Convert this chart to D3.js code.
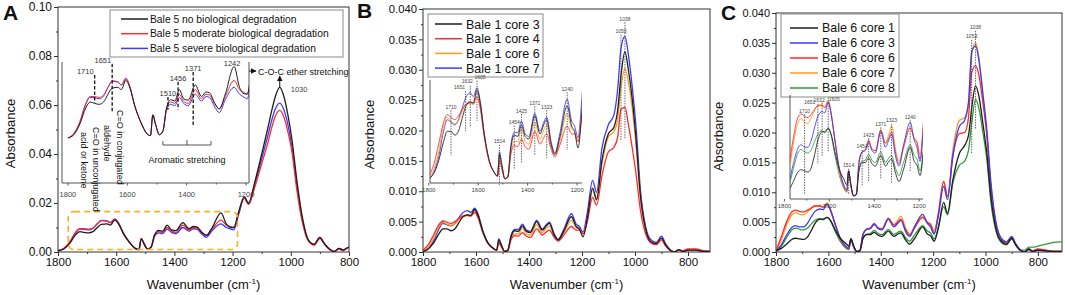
<!DOCTYPE html>
<html>
<head>
<meta charset="utf-8">
<script src="https://cdn.jsdelivr.net/npm/d3@7"></script>
<style>
  body { margin: 0; background: #fff; }
  svg { display: block; font-family: "Liberation Sans", Arial, sans-serif; }
</style>
</head>
<body>
<svg id="fig" width="1065" height="295"></svg>
<script>
// absorbance values are in units of 0.001, one per wavenumber below
const wavenumbers = [1800,1780,1760,1740,1725,1710,1695,1680,1665,1651,
  1632,1620,1605,1592,1575,1555,1535,1522,1514,1505,
  1492,1480,1468,1454,1440,1425,1410,1395,1371,1350,
  1335,1323,1305,1290,1270,1240,1222,1210,1196,1180,
  1160,1145,1125,1100,1080,1065,1053,1038,1025,1010,
  995,980,960,940,920,900,885,865,850,835,
  820,800,770,740,710];

// panel A
const aNone = [0.5,1.2,3.5,7.0,8.3,8.0,7.8,8.3,10.0,11.3,
  11.5,11.0,13.0,11.5,7.5,4.0,1.5,1.0,5.5,3.5,
  1.2,2.0,7.0,8.8,8.5,11.0,9.0,8.7,12.0,9.5,
  10.5,10.3,8.0,6.8,10.0,16.0,11.5,10.2,10.0,16.0,
  22.5,20.0,28.0,40.0,50.0,58.0,63.5,67.2,64.0,56.0,
  45.0,30.0,14.0,5.0,3.2,6.0,3.5,1.0,0.2,1.5,
  0.8,2.0,0.5,0.3,0.3];
const aModerate = [0.5,1.5,4.0,8.0,9.5,9.5,9.3,9.8,11.5,12.8,
  12.6,12.0,13.3,11.8,7.5,4.0,1.5,1.0,5.5,3.5,
  1.2,2.0,6.8,8.3,8.0,10.0,8.5,8.0,11.0,9.0,
  10.0,9.8,7.8,6.8,9.5,13.0,11.0,10.5,10.0,15.5,
  22.0,19.5,26.0,36.0,44.0,51.0,55.5,57.8,55.5,49.0,
  40.0,26.0,12.0,4.5,2.8,5.5,3.2,0.8,0.1,1.2,
  0.6,1.8,0.5,0.3,0.3];
const aSevere = [0.5,1.3,3.8,7.8,9.3,9.2,9.0,9.6,11.5,12.9,
  12.7,12.0,13.5,11.8,7.5,4.0,1.5,1.0,5.5,3.5,
  1.2,2.0,6.5,7.8,7.5,9.3,8.0,7.5,10.0,8.5,
  9.5,9.3,7.2,6.0,8.8,11.5,10.0,9.5,9.0,15.0,
  22.0,19.5,27.0,38.0,47.0,54.0,58.5,60.8,58.5,52.0,
  42.0,28.0,13.0,5.0,3.0,6.0,3.5,1.0,0.2,1.5,
  0.8,2.0,0.5,0.3,0.3];

// panel B
const bCore3 = [0.1,0.5,1.5,3.0,3.8,3.8,3.5,3.8,4.8,5.7,
  6.1,6.0,7.0,6.0,3.5,1.5,0.6,0.3,2.0,1.2,
  0.1,0.3,2.5,3.5,3.4,4.3,3.4,3.2,5.0,3.6,
  4.3,4.7,2.8,2.0,3.3,5.8,4.2,3.8,2.5,5.5,
  10.5,8.6,15.0,19.5,20.5,23.5,29.0,33.0,30.0,25.0,
  18.0,9.5,3.8,1.7,1.4,2.3,1.2,0.2,0.0,0.4,
  0.1,0.3,0.3,0.1,0.1];
const bCore4 = [0.3,1.2,2.8,4.5,5.1,4.9,4.7,5.0,5.5,5.9,
  6.0,5.9,6.5,5.6,3.3,1.4,0.6,0.3,1.5,0.9,
  0.1,0.2,2.0,2.7,2.6,3.2,2.6,2.4,3.8,2.8,
  3.3,3.6,2.4,1.8,2.7,4.2,3.6,3.6,3.0,5.0,
  9.0,7.7,12.5,16.5,17.2,19.0,23.5,23.8,21.0,17.0,
  12.5,7.0,3.0,1.5,1.2,2.0,1.0,0.2,0.0,0.3,
  0.2,0.5,0.5,0.2,0.1];
const bCore6 = [0.2,0.8,2.2,4.2,4.9,4.6,4.4,4.6,5.3,5.9,
  6.1,6.0,6.8,5.8,3.4,1.4,0.6,0.3,1.8,1.0,
  0.1,0.2,2.2,3.0,3.0,4.0,3.0,2.8,4.5,3.2,
  3.9,4.3,2.6,1.9,3.0,5.2,4.0,3.8,3.0,5.3,
  10.2,8.8,14.5,19.0,19.8,22.0,27.0,30.2,28.0,23.5,
  17.0,9.0,3.5,1.6,1.3,2.2,1.1,0.2,0.0,0.3,
  0.2,0.4,0.4,0.1,0.1];
const bCore7 = [0.1,0.6,1.8,3.8,4.7,4.5,4.3,4.7,5.6,6.4,
  6.8,6.5,7.2,6.2,3.6,1.5,0.6,0.3,2.2,1.3,
  0.1,0.3,2.7,3.7,3.7,4.6,3.6,3.4,5.2,3.8,
  4.5,4.9,3.0,2.1,3.6,6.3,4.6,4.2,3.3,6.5,
  11.8,9.8,17.0,21.0,22.5,27.0,33.5,35.5,32.5,27.0,
  20.0,10.5,4.2,2.0,1.6,2.6,1.4,0.3,0.0,0.4,
  0.1,0.3,0.3,0.1,0.1];

// panel C
const cCore1 = [0.2,0.6,1.3,2.1,2.3,2.2,2.1,2.5,3.6,4.8,
  5.5,5.5,5.8,5.3,3.8,2.3,1.5,1.0,2.2,1.2,
  0.1,0.2,2.2,2.9,2.9,3.3,2.8,2.6,3.5,2.6,
  3.0,3.2,2.0,1.3,2.3,4.2,3.0,2.7,1.8,4.0,
  8.3,6.5,12.0,16.5,17.8,19.5,24.0,27.8,26.0,21.5,
  16.5,9.5,3.8,1.8,1.3,2.3,1.2,0.2,0.0,0.5,
  0.1,0.3,0.2,0.1,0.1];
const cCore3 = [0.2,1.2,2.8,4.1,4.4,4.2,4.2,4.8,5.9,6.8,
  7.2,7.1,8.0,7.0,4.8,2.4,1.0,0.6,2.2,1.1,
  0.1,0.2,2.8,3.8,3.9,4.6,3.9,3.7,5.5,4.2,
  4.8,5.3,3.4,2.6,4.3,6.3,4.8,4.2,3.0,6.0,
  11.0,8.8,16.0,21.0,22.0,25.0,33.5,34.5,32.0,26.5,
  20.5,12.0,5.0,2.3,1.7,2.6,1.4,0.3,0.0,0.5,
  0.1,0.3,0.2,0.1,0.1];
const cCore6 = [0.3,2.5,5.0,6.7,7.0,6.8,6.7,7.0,7.4,7.7,
  7.7,7.5,8.0,7.0,4.7,2.2,0.9,0.5,2.2,1.0,
  0.1,0.2,3.0,3.8,4.0,4.8,4.0,3.9,5.6,4.5,
  5.0,5.5,3.7,2.8,4.1,5.8,4.9,4.6,3.2,6.5,
  11.8,9.3,16.0,19.8,20.0,22.5,30.0,31.2,29.5,25.0,
  19.5,11.0,4.5,2.0,1.5,2.4,1.3,0.2,0.0,0.4,
  0.2,0.5,0.3,0.1,0.1];
const cCore7 = [0.3,2.0,4.5,6.2,6.6,6.3,6.2,6.7,7.3,7.7,
  7.8,7.6,8.2,7.2,4.8,2.2,0.9,0.5,2.2,1.0,
  0.1,0.2,3.0,3.8,4.0,4.7,4.1,3.9,5.7,4.6,
  5.3,6.0,4.0,3.0,4.4,5.9,5.0,4.7,3.6,6.5,
  11.8,9.3,17.0,22.0,22.5,25.0,33.0,35.0,32.5,26.0,
  19.5,11.0,4.5,2.0,1.5,2.5,1.3,0.2,0.0,0.4,
  0.2,0.4,0.3,0.1,0.1];
const cCore8 = [0.2,0.9,2.4,3.7,4.0,3.8,3.7,4.0,4.7,5.3,
  5.6,5.4,5.8,5.2,3.5,1.8,0.7,0.4,2.2,1.1,
  0.1,0.2,2.4,3.0,3.1,3.6,3.1,2.9,3.8,2.9,
  3.3,3.5,2.4,1.8,2.9,4.4,3.5,3.2,2.2,4.2,
  7.6,6.2,11.5,14.5,15.2,17.0,21.5,25.5,24.0,20.0,
  15.5,8.5,3.5,1.6,1.2,2.2,1.2,0.3,0.3,0.8,
  0.8,1.0,1.3,1.6,1.7];

const xTicks = [1800, 1600, 1400, 1200, 1000, 800];
const xMinorTicks = [1700, 1500, 1300, 1100, 900];
const insetTicks = [1800, 1600, 1400, 1200];
const insetMinorTicks = [1700, 1500, 1300];
const peakMarks = [1710, 1651, 1632, 1605, 1514, 1454, 1425, 1371, 1323, 1240];
const mainPeakMarks = [1053, 1038];

// labels in panel A inset (drawn where the original puts them)
const insetANotes = [
  { label: "1710", at: 1710, top: 14.2, bottom: 8.1, anchor: "end" },
  { label: "1651", at: 1651, top: 16.6, bottom: 6.1, anchor: "end" },
  { label: "1510", at: 1463, top: 9.4, bottom: 6.6, anchor: "middle" },
  { label: "1456", at: 1429, top: 12.7, bottom: 6.6, anchor: "middle" },
  { label: "1371", at: 1378, top: 14.8, bottom: 2.9, anchor: "middle" },
  { label: "1242", at: 1247, top: 16.0, bottom: null, anchor: "middle" }
];

const svg = d3.select("#fig");
const defs = svg.append("defs");
defs.append("marker").attr("id", "arrow")
  .attr("viewBox", "0 0 10 10").attr("refX", 9).attr("refY", 5)
  .attr("markerWidth", 6).attr("markerHeight", 6).attr("orient", "auto")
  .append("path").attr("d", "M0,0L10,5L0,10z").attr("fill", "#111");

const pairs = vals => wavenumbers.map((w, i) => [w, vals[i]]);

function drawPanel(p) {
  const g = svg.append("g");
  const x = d3.scaleLinear().domain(p.xDomain).range([p.left, p.right]);
  const y = d3.scaleLinear().domain(p.yDomain).range([p.bottom, p.top]);
  const clipId = "clip-" + p.letter;
  defs.append("clipPath").attr("id", clipId).append("rect")
    .attr("x", p.left).attr("y", p.top).attr("width", p.right - p.left).attr("height", p.bottom - p.top);

  // axes
  const xa = g.append("g").attr("transform", `translate(0,${p.bottom})`)
    .call(d3.axisBottom(x).tickValues(xTicks).tickSize(4).tickSizeOuter(0).tickPadding(2).tickFormat(d3.format("d")));
  g.append("g").attr("transform", `translate(0,${p.bottom})`)
    .call(d3.axisBottom(x).tickValues(xMinorTicks).tickSize(2).tickSizeOuter(0).tickFormat(""));
  const yMajor = d3.range(p.yDomain[0], p.yDomain[1] + 1e-6, p.yStep);
  const yMinor = d3.range(p.yStep / 2, p.yDomain[1], p.yStep);
  const ya = g.append("g").attr("transform", `translate(${p.left},0)`)
    .call(d3.axisLeft(y).tickValues(yMajor).tickSize(4).tickSizeOuter(0).tickPadding(2)
      .tickFormat(d => (d / 1000).toFixed(p.yDigits)));
  g.append("g").attr("transform", `translate(${p.left},0)`)
    .call(d3.axisLeft(y).tickValues(yMinor).tickSize(2).tickSizeOuter(0).tickFormat(""));
  g.selectAll(".domain").remove();
  g.selectAll(".tick line").attr("stroke", "#333");
  xa.selectAll("text").attr("font-size", 11.5).attr("fill", "#111").attr("font-family", "Liberation Sans");
  ya.selectAll("text").attr("font-size", p.yFont).attr("fill", "#111").attr("font-family", "Liberation Sans");

  g.append("rect").attr("x", p.left).attr("y", p.top)
    .attr("width", p.right - p.left).attr("height", p.bottom - p.top)
    .attr("fill", "none").attr("stroke", "#333").attr("stroke-width", 1);

  // axis titles and panel letter
  const xt = g.append("text").attr("x", (p.left + p.right) / 2).attr("y", 289)
    .attr("text-anchor", "middle").attr("font-size", 13).attr("fill", "#111");
  xt.append("tspan").text("Wavenumber (cm");
  xt.append("tspan").attr("font-size", 8).attr("dy", -5).text("-1");
  xt.append("tspan").attr("dy", 5).text(")");
  g.append("text").attr("transform", `translate(${p.yLabelX},${(p.top + p.bottom) / 2 + 4}) rotate(-90)`)
    .attr("text-anchor", "middle").attr("font-size", 13).attr("fill", "#111").text("Absorbance");
  g.append("text").attr("x", p.letterX).attr("y", p.letterY)
    .attr("font-size", 21).attr("font-weight", "bold").attr("fill", "#111").text(p.letter);

  // spectra
  const line = d3.line().x(d => x(d[0])).y(d => y(d[1])).curve(d3.curveMonotoneX);
  g.append("g").attr("clip-path", `url(#${clipId})`)
    .selectAll("path").data(p.series.slice().reverse()).join("path")
    .attr("d", s => line(pairs(s.values)))
    .attr("fill", "none").attr("stroke", s => s.color).attr("stroke-width", 1.3);

  // legend
  const L = p.legend;
  const lg = g.append("g");
  lg.append("rect").attr("x", L.x0).attr("y", L.y0).attr("width", L.x1 - L.x0).attr("height", L.y1 - L.y0)
    .attr("fill", "#fff").attr("stroke", "#8a8a8a").attr("stroke-width", 1);
  p.series.forEach((s, i) => {
    const ry = L.rowY0 + i * L.rowStep;
    lg.append("line").attr("x1", L.lineX0).attr("x2", L.lineX1).attr("y1", ry).attr("y2", ry)
      .attr("stroke", s.color).attr("stroke-width", 1.5);
    lg.append("text").attr("x", L.textX).attr("y", ry + L.font * 0.36)
      .attr("font-size", L.font).attr("fill", "#111").text(s.name);
  });
  return { g, x, y };
}

function drawInset(g, series, ins) {
  const x = d3.scaleLinear().domain(ins.xDomain).range([ins.left, ins.right]);
  const y = d3.scaleLinear().domain(ins.yDomain).range([ins.bottom, ins.top]);
  const clipId = "clip-inset-" + ins.id;
  defs.append("clipPath").attr("id", clipId).append("rect")
    .attr("x", ins.left).attr("y", ins.top).attr("width", ins.right - ins.left).attr("height", ins.bottom - ins.top);
  const ig = g.append("g");
  const axisPath = ins.boxRight
    ? `M${ins.left},${ins.top}V${ins.bottom}H${ins.right}V${ins.top}`
    : `M${ins.left},${ins.top}V${ins.bottom}H${ins.right}`;
  ig.append("path").attr("d", axisPath).attr("fill", "none").attr("stroke", "#555").attr("stroke-width", 1);
  insetTicks.filter(t => t <= ins.xDomain[0] + 25 && t >= ins.xDomain[1] - 15).forEach(t => {
    ig.append("line").attr("x1", x(t)).attr("x2", x(t)).attr("y1", ins.bottom).attr("y2", ins.bottom + 2.5)
      .attr("stroke", "#555");
    ig.append("text").attr("x", x(t)).attr("y", ins.bottom + ins.labelDy).attr("text-anchor", "middle")
      .attr("font-size", ins.labelFont).attr("fill", "#444").text(t);
  });
  insetMinorTicks.filter(t => t <= ins.xDomain[0] && t >= ins.xDomain[1]).forEach(t => {
    ig.append("line").attr("x1", x(t)).attr("x2", x(t)).attr("y1", ins.bottom).attr("y2", ins.bottom + 1.5)
      .attr("stroke", "#555");
  });
  const line = d3.line().x(d => x(d[0])).y(d => y(d[1])).curve(d3.curveMonotoneX);
  ig.append("g").attr("clip-path", `url(#${clipId})`)
    .selectAll("path").data(series.slice().reverse()).join("path")
    .attr("d", s => line(pairs(s.values)))
    .attr("fill", "none").attr("stroke", s => s.color).attr("stroke-width", 1)
    .attr("stroke-opacity", ins.opacity || 1);
  return { g: ig, x, y };
}

// dotted peak lines; o.shift moves crowded labels by [dx, dy] pixels
function dashMarks(g, x, y, series, marks, o) {
  marks.forEach(wn => {
    const i = wavenumbers.indexOf(wn);
    const vals = series.map(s => s.values[i]);
    const top = y(d3.max(vals)) - o.above;
    const bottom = y(d3.min(vals)) + o.below;
    const [dx, dy] = (o.shift && o.shift[wn]) || [0, 0];
    g.append("line").attr("x1", x(wn)).attr("x2", x(wn)).attr("y1", top).attr("y2", bottom)
      .attr("stroke", "#333").attr("stroke-width", 0.8).attr("stroke-dasharray", "1.4,1.2");
    g.append("text").attr("x", x(wn) + dx).attr("y", top - 1.5 + dy).attr("text-anchor", "middle")
      .attr("font-size", o.font).attr("fill", "#444").text(wn);
  });
}

// ---------- panel A ----------
const seriesA = [
  { name: "Bale 5 no biological degradation", values: aNone, color: "#1e1e1e" },
  { name: "Bale 5 moderate biological degradation", values: aModerate, color: "#ff2a2a" },
  { name: "Bale 5 severe biological degradation", values: aSevere, color: "#3a3aff" }
];
const A = drawPanel({
  letter: "A", left: 58, right: 349, top: 7, bottom: 252,
  xDomain: [1800, 800], yDomain: [0, 100], yStep: 20, yDigits: 2, yFont: 12,
  yLabelX: 15, letterX: 3, letterY: 20, series: seriesA,
  legend: { x0: 110, y0: 10, x1: 343, y1: 57, lineX0: 121, lineX1: 148, textX: 150, rowY0: 19, rowStep: 14.7, font: 10.3 }
});

// dashed highlight box around the region that is enlarged
const boxA = { from: 1765, to: 1183, low: 1.0, high: 16.5 };
A.g.append("rect")
  .attr("x", A.x(boxA.from)).attr("y", A.y(boxA.high))
  .attr("width", A.x(boxA.to) - A.x(boxA.from)).attr("height", A.y(boxA.low) - A.y(boxA.high))
  .attr("rx", 6).attr("fill", "none").attr("stroke", "#f5b324").attr("stroke-width", 1.6)
  .attr("stroke-dasharray", "6,4");

const insA = drawInset(A.g, seriesA, {
  id: "A", left: 62, right: 249, top: 62, bottom: 183, xDomain: [1820, 1190], yDomain: [-9.3, 17.0],
  boxRight: true, labelDy: 14, labelFont: 7.5
});
insetANotes.forEach(n => {
  const xp = insA.x(n.at);
  if (n.bottom !== null) {
    insA.g.append("line").attr("x1", xp).attr("x2", xp).attr("y1", insA.y(n.top)).attr("y2", insA.y(n.bottom))
      .attr("stroke", "#111").attr("stroke-width", 1.3).attr("stroke-dasharray", "3.5,2");
  }
  insA.g.append("text").attr("x", n.anchor === "end" ? xp - 1 : xp).attr("y", insA.y(n.top) - 1)
    .attr("text-anchor", n.anchor).attr("font-size", 7.5).attr("fill", "#333").text(n.label);
});
// rotated carbonyl labels
[
  { text: "C=O in unconjugated", at: 1710, dx: -1.5, y: 127 },
  { text: "acid or ketone", at: 1710, dx: -14, y: 132 },
  { text: "C=O in conjugated", at: 1651, dx: 5, y: 110 },
  { text: "aldehyde", at: 1651, dx: -8, y: 125 }
].forEach(t => {
  insA.g.append("text").attr("transform", `translate(${insA.x(t.at) + t.dx},${t.y}) rotate(90)`)
    .attr("font-size", 9).attr("fill", "#111").text(t.text);
});
// aromatic bracket
const brL = insA.x(1480), brR = insA.x(1318), brM = (brL + brR) / 2;
insA.g.append("path").attr("d", `M${brL},141V145H${brR}V141M${brM},145V140`)
  .attr("fill", "none").attr("stroke", "#444").attr("stroke-width", 0.9);
insA.g.append("text").attr("x", brM).attr("y", 163).attr("text-anchor", "middle")
  .attr("font-size", 9).attr("fill", "#111").text("Aromatic stretching");
// ether arrow and main peak label
A.g.append("line").attr("x1", 249).attr("x2", 256).attr("y1", 71).attr("y2", 71)
  .attr("stroke", "#111").attr("stroke-width", 1).attr("marker-end", "url(#arrow)");
A.g.append("text").attr("x", 258).attr("y", 74.5).attr("font-size", 9).attr("fill", "#111")
  .text("C-O-C ether stretching");
const peakX = A.x(1038);
A.g.append("line").attr("x1", peakX).attr("x2", peakX).attr("y1", 88).attr("y2", 76)
  .attr("stroke", "#111").attr("stroke-width", 1).attr("marker-end", "url(#arrow)");
A.g.append("text").attr("x", peakX + 11).attr("y", 92).attr("font-size", 7.5).attr("fill", "#444").text("1030");

// ---------- panel B ----------
const seriesB = [
  { name: "Bale 1 core 3", values: bCore3, color: "#1e1e1e" },
  { name: "Bale 1 core 4", values: bCore4, color: "#ff2a2a" },
  { name: "Bale 1 core 6", values: bCore6, color: "#ff9a1a" },
  { name: "Bale 1 core 7", values: bCore7, color: "#3a3aff" }
];
const B = drawPanel({
  letter: "B", left: 423, right: 710, top: 9, bottom: 252,
  xDomain: [1800, 717], yDomain: [0, 40], yStep: 5, yDigits: 3, yFont: 11.3,
  yLabelX: 374, letterX: 357, letterY: 18, series: seriesB,
  legend: { x0: 428, y0: 14, x1: 543, y1: 77, lineX0: 435, lineX1: 462, textX: 466, rowY0: 24, rowStep: 14.7, font: 12.5 }
});
dashMarks(B.g, B.x, B.y, seriesB, mainPeakMarks, { above: 14, below: 32, font: 5 });
const insB = drawInset(B.g, seriesB, {
  id: "B", left: 430, right: 582, top: 80, bottom: 183, xDomain: [1795, 1180], yDomain: [-0.23, 7.8],
  boxRight: false, labelDy: 9, labelFont: 6, opacity: 0.85
});
dashMarks(insB.g, insB.x, insB.y, seriesB, peakMarks,
  { above: 7, below: 24, font: 5, shift: { 1651: [-6, 0], 1632: [-3, -1], 1605: [3, 0] } });

// ---------- panel C ----------
const seriesC = [
  { name: "Bale 6 core 1", values: cCore1, color: "#1e1e1e" },
  { name: "Bale 6 core 3", values: cCore3, color: "#3a3aff" },
  { name: "Bale 6 core 6", values: cCore6, color: "#ff2a2a" },
  { name: "Bale 6 core 7", values: cCore7, color: "#ff9a1a" },
  { name: "Bale 6 core 8", values: cCore8, color: "#2e9a36" }
];
const C = drawPanel({
  letter: "C", left: 776, right: 1062, top: 13, bottom: 252,
  xDomain: [1800, 708], yDomain: [0, 40], yStep: 5, yDigits: 3, yFont: 11,
  yLabelX: 723, letterX: 721, letterY: 20, series: seriesC,
  legend: { x0: 781, y0: 14, x1: 899, y1: 97, lineX0: 790, lineX1: 818, textX: 822, rowY0: 28, rowStep: 15, font: 12.4 }
});
dashMarks(C.g, C.x, C.y, seriesC, mainPeakMarks, { above: 12, below: 30, font: 5 });
const insC = drawInset(C.g, seriesC, {
  id: "C", left: 790, right: 923, top: 95, bottom: 199, xDomain: [1775, 1183], yDomain: [-0.17, 8.6],
  boxRight: false, labelDy: 9, labelFont: 6, opacity: 0.85
});
dashMarks(insC.g, insC.x, insC.y, seriesC, peakMarks,
  { above: 2, below: 24, font: 5, shift: { 1651: [-8, 2], 1632: [-3, 1], 1605: [6, 5] } });
</script>
</body>
</html>
